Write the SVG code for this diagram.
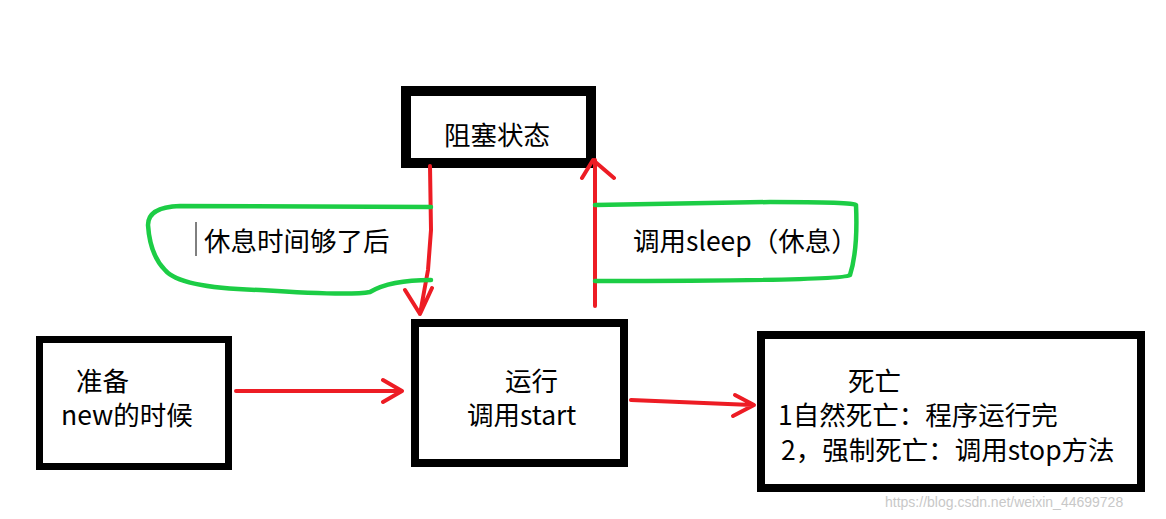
<svg xmlns="http://www.w3.org/2000/svg" width="1166" height="519" viewBox="0 0 1166 519">
<style>
.box{fill:#fff;stroke:#000}
.t{font-family:"Microsoft YaHei","Noto Sans CJK SC",sans-serif;font-size:26.5px;fill:#000}
.r{fill:none;stroke:#ed1c24;stroke-width:4;stroke-linecap:round;stroke-linejoin:round}
.g{fill:none;stroke:#1ccd45;stroke-width:4.5;stroke-linecap:round;stroke-linejoin:round}
</style>
<rect width="1166" height="519" fill="#fff"/>
<g id="blocked"><rect class="box" x="406" y="91" width="185" height="72" stroke-width="10"/><text class="t" x="444" y="145">阻塞状态</text></g>
<g id="ready"><rect class="box" x="39.5" y="339.5" width="189" height="127" stroke-width="7"/><text class="t" x="76" y="391">准备</text><text class="t" x="61" y="425">new的时候</text></g>
<g id="running"><rect class="box" x="415" y="323" width="209" height="140" stroke-width="8"/><text class="t" x="505" y="391">运行</text><text class="t" x="467" y="425">调用start</text></g>
<g id="dead"><rect class="box" x="761" y="335" width="380" height="153" stroke-width="8"/><text class="t" x="848" y="391">死亡</text><text class="t" x="778" y="425">1自然死亡：程序运行完</text><text class="t" x="781" y="460">2，强制死亡：调用stop方法</text></g>
<g id="connectors">
<path class="r" d="M430 166 L431 230 L428 270 L420 314 M405 290 L420 314 L432 288"/>
<path class="r" d="M595 306 L595 160 M582 178 L593 160 L614 178"/>
<path class="r" d="M236 391 L400 391 M383 380 L402 391 L383 402"/>
<path class="r" d="M631 400 L752 405 M735 395 L754 405 L733 416"/>
<path class="g" d="M431 207 L180 206 Q148 207 148 225 Q150 255 165 270 Q180 288 260 290 Q350 296 370 292 Q390 280 431 280"/>
<path class="g" d="M595 205 L770 202 Q855 202 856 205 Q858 250 850 275 Q845 281 595 281"/>
</g>
<line x1="196" y1="222" x2="196" y2="256" stroke="#000" stroke-width="1"/>
<text class="t" x="204" y="251">休息时间够了后</text>
<text class="t" x="633" y="251">调用sleep（休息）</text>
<text x="885" y="507" font-family="Liberation Sans,sans-serif" font-size="14" fill="#c8c8c8">https://blog.csdn.net/weixin_44699728</text>
</svg>
